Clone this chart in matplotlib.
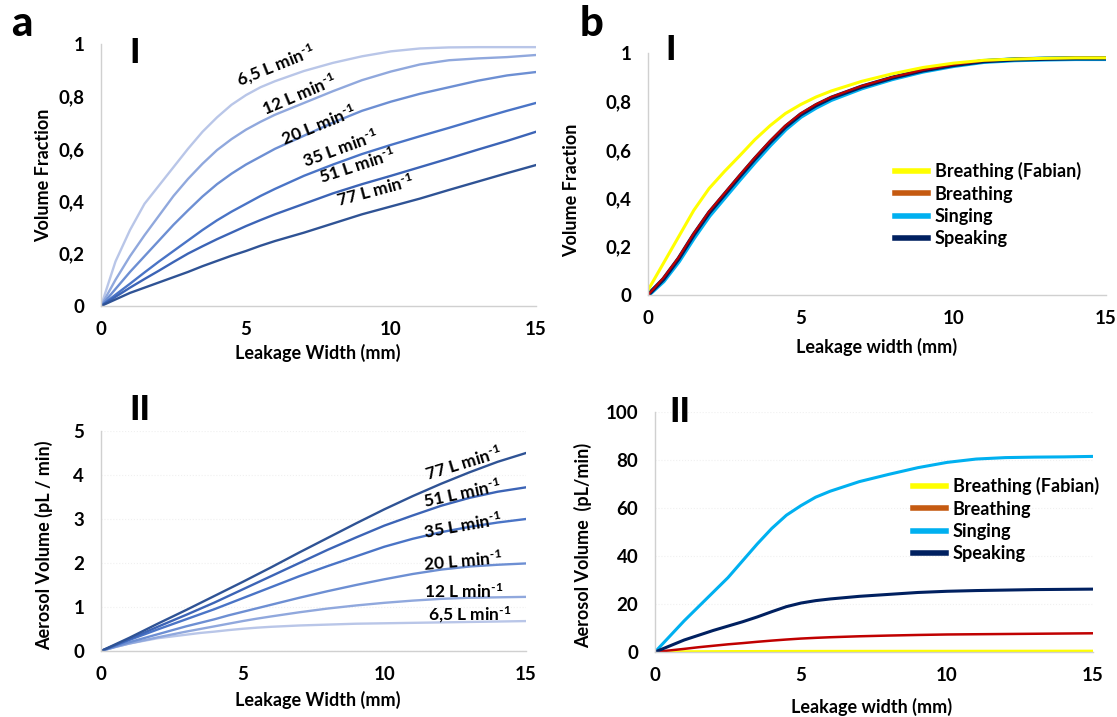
import numpy as np
import matplotlib
matplotlib.use("Agg")
import matplotlib.pyplot as plt
from matplotlib.lines import Line2D

plt.rcParams['font.family'] = ['Lato', 'DejaVu Sans']
plt.rcParams['font.weight'] = 'bold'
plt.rcParams['mathtext.fontset'] = 'custom'
plt.rcParams['mathtext.rm'] = 'Lato:bold'
plt.rcParams['mathtext.bf'] = 'Lato:bold'
plt.rcParams['mathtext.default'] = 'bf'

W, H = 1117, 717

# ---- data ----
width = [0, 0.5, 1, 1.5, 2, 2.5, 3, 3.5, 4, 4.5, 5, 5.5, 6, 7, 8, 9, 10, 11, 12, 13, 14, 15]
flow_labels = ["6,5", "12", "20", "35", "51", "77"]

# panel a-I : volume fraction vs leakage width per flow rate
frac_65 = [0, 0.17, 0.29, 0.39, 0.46, 0.53, 0.60, 0.665, 0.72, 0.768, 0.805, 0.835, 0.858, 0.897, 0.928, 0.953, 0.972, 0.983, 0.987, 0.988, 0.988, 0.988]
frac_12 = [0, 0.10, 0.19, 0.27, 0.345, 0.42, 0.485, 0.543, 0.595, 0.637, 0.673, 0.703, 0.73, 0.775, 0.82, 0.862, 0.895, 0.922, 0.938, 0.945, 0.95, 0.958]
frac_20 = [0, 0.065, 0.13, 0.19, 0.25, 0.31, 0.365, 0.418, 0.465, 0.505, 0.54, 0.57, 0.60, 0.65, 0.70, 0.745, 0.78, 0.81, 0.835, 0.86, 0.88, 0.893]
frac_35 = [0, 0.043, 0.085, 0.128, 0.17, 0.21, 0.25, 0.29, 0.327, 0.36, 0.39, 0.42, 0.447, 0.497, 0.54, 0.58, 0.615, 0.648, 0.68, 0.713, 0.745, 0.775]
frac_51 = [0, 0.035, 0.07, 0.103, 0.135, 0.168, 0.20, 0.228, 0.255, 0.28, 0.305, 0.328, 0.35, 0.39, 0.43, 0.465, 0.497, 0.53, 0.563, 0.597, 0.63, 0.665]
frac_77 = [0, 0.025, 0.05, 0.07, 0.09, 0.11, 0.13, 0.152, 0.172, 0.192, 0.21, 0.23, 0.248, 0.28, 0.315, 0.35, 0.38, 0.41, 0.443, 0.475, 0.507, 0.538]

# panel a-II : aerosol volume (pL/min) per flow rate
aer_65 = [0, 0.09, 0.17, 0.23, 0.29, 0.33, 0.37, 0.41, 0.44, 0.475, 0.505, 0.53, 0.55, 0.58, 0.60, 0.62, 0.63, 0.64, 0.65, 0.66, 0.67, 0.68]
aer_12 = [0, 0.09, 0.17, 0.24, 0.31, 0.375, 0.44, 0.50, 0.56, 0.62, 0.68, 0.735, 0.785, 0.88, 0.965, 1.035, 1.095, 1.145, 1.185, 1.21, 1.22, 1.23]
aer_20 = [0, 0.10, 0.20, 0.29, 0.38, 0.47, 0.56, 0.64, 0.72, 0.81, 0.89, 0.97, 1.05, 1.21, 1.36, 1.50, 1.63, 1.75, 1.85, 1.92, 1.96, 1.99]
aer_35 = [0, 0.125, 0.25, 0.37, 0.49, 0.605, 0.72, 0.835, 0.95, 1.075, 1.20, 1.325, 1.45, 1.70, 1.93, 2.15, 2.37, 2.55, 2.70, 2.82, 2.92, 3.00]
aer_51 = [0, 0.135, 0.27, 0.41, 0.55, 0.685, 0.82, 0.96, 1.10, 1.25, 1.40, 1.55, 1.70, 2.00, 2.30, 2.58, 2.85, 3.08, 3.30, 3.48, 3.62, 3.72]
aer_77 = [0, 0.15, 0.30, 0.46, 0.62, 0.775, 0.93, 1.09, 1.25, 1.41, 1.57, 1.735, 1.90, 2.24, 2.57, 2.90, 3.22, 3.52, 3.80, 4.06, 4.30, 4.50]

# panel b : activities
frac_fabian = [0.02, 0.13, 0.24, 0.35, 0.44, 0.51, 0.575, 0.642, 0.70, 0.75, 0.787, 0.818, 0.843, 0.883, 0.914, 0.94, 0.958, 0.97, 0.975, 0.978, 0.98, 0.98]
frac_breath = [0, 0.07, 0.155, 0.255, 0.345, 0.42, 0.495, 0.568, 0.637, 0.70, 0.75, 0.788, 0.818, 0.864, 0.90, 0.93, 0.952, 0.968, 0.975, 0.978, 0.98, 0.98]
frac_sing = [0, 0.058, 0.14, 0.238, 0.328, 0.403, 0.478, 0.551, 0.621, 0.686, 0.738, 0.776, 0.808, 0.856, 0.894, 0.925, 0.948, 0.965, 0.972, 0.975, 0.977, 0.977]
frac_speak = [0, 0.065, 0.15, 0.25, 0.34, 0.415, 0.49, 0.563, 0.632, 0.695, 0.746, 0.784, 0.815, 0.861, 0.898, 0.928, 0.95, 0.966, 0.973, 0.976, 0.978, 0.978]

aer_fabian = [0, 0.05, 0.1, 0.12, 0.15, 0.18, 0.2, 0.21, 0.22, 0.24, 0.25, 0.26, 0.27, 0.28, 0.29, 0.3, 0.3, 0.31, 0.32, 0.33, 0.34, 0.35]
aer_breath = [0, 0.65, 1.3, 2.0, 2.6, 3.2, 3.7, 4.25, 4.75, 5.2, 5.6, 5.9, 6.15, 6.55, 6.85, 7.1, 7.3, 7.4, 7.5, 7.6, 7.7, 7.8]
aer_sing = [0, 6.5, 13, 19, 25, 31, 38, 45, 51.5, 57, 61, 64.5, 67, 71, 74, 76.8, 79, 80.4, 81, 81.2, 81.3, 81.5]
aer_speak = [0, 2.5, 5, 7, 9, 10.8, 12.6, 14.6, 16.8, 18.9, 20.4, 21.4, 22.1, 23.2, 24, 24.8, 25.3, 25.6, 25.8, 26, 26.1, 26.2]

activities = ["Breathing (Fabian)", "Breathing", "Singing", "Speaking"]

blues = ['#b9c6e8', '#90a8dd', '#6d8fd3', '#4a74c6', '#3c64b6', '#2f5395']
act_line = ['#ffff00', '#c00000', '#00b0f0', '#002060']
act_legend = ['#ffff00', '#c55a11', '#00b0f0', '#002060']

SUP = ' L min$^{\u20101}$'


def rect(l, r, t, b):
    return [l / W, 1 - b / H, (r - l) / W, (b - t) / H]


def style(ax, yticks, ylabels, grid=False):
    ax.set_xlim(0, 15)
    ax.set_ylim(yticks[0], yticks[-1])
    ax.set_xticks([0, 5, 10, 15])
    ax.set_yticks(yticks)
    ax.set_yticklabels(ylabels)
    for s in ['top', 'right']:
        ax.spines[s].set_visible(False)
    for s in ['left', 'bottom']:
        ax.spines[s].set_color('#d0d0d0')
        ax.spines[s].set_linewidth(1.0)
    ax.tick_params(length=0, labelsize=13.5)
    ax.tick_params(axis='x', pad=11)
    ax.tick_params(axis='y', pad=12)
    if grid:
        ax.yaxis.grid(True, color='#f0f0f0', linestyle=':', linewidth=0.8)
        ax.set_axisbelow(True)


def ftext(x, y, s, **kw):
    fig.text(x / W, 1 - y / H, s, ha='center', va='center', **kw)


fig = plt.figure(figsize=(W / 100, H / 100), dpi=100)

# a-I
ax1 = fig.add_axes(rect(101, 536, 44, 306))
for vals, c in zip([frac_65, frac_12, frac_20, frac_35, frac_51, frac_77], blues):
    ax1.plot(width, vals, color=c, lw=1.7, solid_joinstyle='round')
style(ax1, [0, 0.2, 0.4, 0.6, 0.8, 1], ['0', '0,2', '0,4', '0,6', '0,8', '1'])
lab_pos_1 = [(6.03, 0.915, 22), (6.83, 0.805, 23), (7.52, 0.69, 22), (8.24, 0.60, 20), (8.83, 0.535, 18), (9.45, 0.44, 15)]
for name, (x, y, r) in zip(flow_labels, lab_pos_1):
    ax1.text(x, y, name + SUP, rotation=r, ha='center', va='center', fontsize=12.5, rotation_mode='anchor')

# b-I
ax2 = fig.add_axes(rect(648, 1106, 53, 295))
ax2.plot(width, frac_sing, color=act_line[2], lw=3.6, solid_joinstyle='round')
ax2.plot(width, frac_speak, color=act_line[3], lw=3.0, solid_joinstyle='round')
ax2.plot(width, frac_breath, color=act_line[1], lw=1.6, solid_joinstyle='round')
ax2.plot(width, frac_fabian, color=act_line[0], lw=2.2, solid_joinstyle='round')
style(ax2, [0, 0.2, 0.4, 0.6, 0.8, 1], ['0', '0,2', '0,4', '0,6', '0,8', '1'])

# a-II
ax3 = fig.add_axes(rect(101, 526, 431, 651))
for vals, c in zip([aer_65, aer_12, aer_20, aer_35, aer_51, aer_77], blues):
    ax3.plot(width, vals, color=c, lw=1.7, solid_joinstyle='round')
style(ax3, [0, 1, 2, 3, 4, 5], ['0', '1', '2', '3', '4', '5'], grid=True)
lab_pos_3 = [(13.0, 0.82, 0), (12.8, 1.36, 0), (12.76, 2.05, 5), (12.76, 2.84, 10), (12.76, 3.57, 12), (12.8, 4.27, 17)]
for name, (x, y, r) in zip(flow_labels, lab_pos_3):
    ax3.text(x, y, name + SUP, rotation=r, ha='center', va='center', fontsize=12.5, rotation_mode='anchor')

# b-II
ax4 = fig.add_axes(rect(655, 1093, 412, 652))
ax4.plot(width, aer_fabian, color=act_line[0], lw=2.2)
ax4.plot(width, aer_breath, color=act_line[1], lw=1.8, solid_joinstyle='round')
ax4.plot(width, aer_sing, color=act_line[2], lw=2.2, solid_joinstyle='round')
ax4.plot(width, aer_speak, color=act_line[3], lw=2.2, solid_joinstyle='round')
style(ax4, [0, 20, 40, 60, 80, 100], ['0', '20', '40', '60', '80', '100'], grid=True)

# legends
handles = [Line2D([], [], color=c, lw=4) for c in act_legend]
fig.legend(handles, activities, loc='upper left', bbox_to_anchor=(895 / W, 1 - 162 / H),
           frameon=False, fontsize=13, borderpad=0, borderaxespad=0, handlelength=1.8,
           handletextpad=0.4, labelspacing=0.3)
fig.legend(handles, activities, loc='upper left', bbox_to_anchor=(913 / W, 1 - 477 / H),
           frameon=False, fontsize=13, borderpad=0, borderaxespad=0, handlelength=1.8,
           handletextpad=0.4, labelspacing=0.3)

# axis titles
ftext(44, 175, 'Volume Fraction', rotation=90, fontsize=13)
ftext(318, 353, 'Leakage Width (mm)', fontsize=13)
ftext(572, 190, 'Volume Fraction', rotation=90, fontsize=13)
ftext(877, 347, 'Leakage width (mm)', fontsize=13)
ftext(44, 545, 'Aerosol Volume (pL / min)', rotation=90, fontsize=13)
ftext(318, 700, 'Leakage Width (mm)', fontsize=13)
ftext(583, 545, 'Aerosol Volume  (pL/min)', rotation=90, fontsize=13)
ftext(872, 707, 'Leakage width (mm)', fontsize=13)

# panel markers
ftext(22, 24, 'a', fontsize=30, fontweight='black')
ftext(592, 24, 'b', fontsize=30, fontweight='black')
ftext(135, 53, 'I', fontsize=25, fontweight='black')
ftext(671, 50, 'I', fontsize=25, fontweight='black')
ftext(140, 410, 'II', fontsize=25, fontweight='black')
ftext(680, 412, 'II', fontsize=25, fontweight='black')

fig.savefig('out.png', dpi=100)
